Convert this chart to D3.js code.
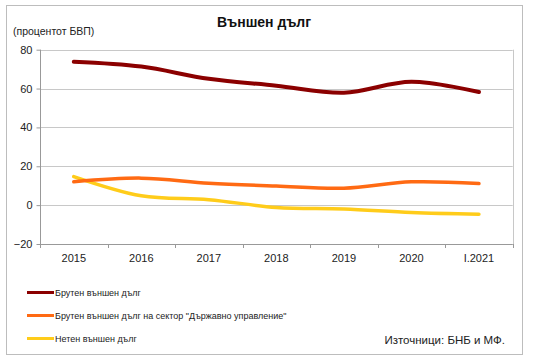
<!DOCTYPE html>
<html><head><meta charset="utf-8">
<script src="https://cdn.jsdelivr.net/npm/d3@7/dist/d3.min.js"></script>
<style>body{margin:0;background:#fff;} svg{display:block;font-family:"Liberation Sans",Arial,sans-serif;}</style>
</head><body>
<svg id="c" width="533" height="360"></svg>
<script>
const categories = ["2015","2016","2017","2018","2019","2020","I.2021"];
const grossDebt = [73.8, 71.3, 65, 61.5, 57.9, 63.5, 58.2];
const govDebt = [12.0, 13.9, 11.3, 9.8, 8.7, 12.0, 11.1];
const netDebt = [14.7, 4.8, 2.8, -1.2, -2.0, -3.8, -4.7];
const yTicks = [-20, 0, 20, 40, 60, 80];
const seriesNames = ["Брутен външен дълг", "Брутен външен дълг на сектор \"Държавно управление\"", "Нетен външен дълг"];
const colors = ["#8B0000", "#FF6A13", "#FFCC1A"];

const svg = d3.select("#c");
svg.append("rect").attr("x",6.5).attr("y",5.5).attr("width",516).attr("height",349)
  .attr("fill","#fff").attr("stroke","#bdbdbd").attr("stroke-width",1);

const L=40, R=512.7, T=49.7, B=244;
const x = d3.scaleBand().domain(categories).range([L,R]);
const y = d3.scaleLinear().domain([-20,80]).range([B,T]);

// gridlines
svg.append("g").selectAll("line").data(yTicks).join("line")
  .attr("x1",L).attr("x2",R).attr("y1",d=>Math.round(y(d))+0.5).attr("y2",d=>Math.round(y(d))+0.5)
  .attr("stroke","#c8c8c8");
svg.append("line").attr("x1",Math.round(R)+0.5).attr("x2",Math.round(R)+0.5).attr("y1",T).attr("y2",B).attr("stroke","#c8c8c8");

// y axis
const ya = svg.append("g").attr("transform",`translate(${L+0.5},0)`)
  .call(d3.axisLeft(y).tickValues(yTicks).tickSize(4).tickPadding(4));
ya.select(".domain").attr("stroke","#999").attr("d",`M-0,${T}V${B}`);
ya.selectAll(".tick line").attr("stroke","#999");
ya.selectAll(".tick text").attr("font-size",11).attr("fill","#222").attr("font-family","Liberation Sans, Arial, sans-serif");

// x axis
const xa = svg.append("g").attr("transform",`translate(0,${Math.round(B)+0.5})`)
  .call(d3.axisBottom(x).tickSize(0).tickPadding(10));
xa.select(".domain").attr("stroke","#999").attr("d",`M${L},0H${R}`);
xa.selectAll(".tick text").attr("font-size",11).attr("fill","#222").attr("font-family","Liberation Sans, Arial, sans-serif");
const bounds = categories.map(c=>x(c)).concat([R]);
svg.append("g").selectAll("line").data(bounds).join("line")
  .attr("x1",d=>Math.round(d)+0.5).attr("x2",d=>Math.round(d)+0.5)
  .attr("y1",B).attr("y2",B+4).attr("stroke","#999");

// lines
const cx = c => x(c)+x.bandwidth()/2;
const line = d3.line().x((d,i)=>cx(categories[i])).y(d=>y(d)).curve(d3.curveCatmullRom.alpha(0));
const series = [grossDebt, govDebt, netDebt];
const widths = [4, 3.5, 3.5];
[2,1,0].forEach(k=>{
  svg.append("path").attr("d",line(series[k])).attr("fill","none")
    .attr("stroke",colors[k]).attr("stroke-width",widths[k]).attr("stroke-linecap","round").attr("stroke-linejoin","round");
});

// title
svg.append("text").attr("x",264).attr("y",27).attr("text-anchor","middle")
  .attr("font-size",14).attr("font-weight","bold").attr("fill","#111").text("Външен дълг");
svg.append("text").attr("x",13).attr("y",35).attr("font-size",10.5).attr("fill","#222").text("(процентот БВП)");

// legend
const ly = [292.5, 315.5, 338.5];
seriesNames.forEach((n,i)=>{
  svg.append("line").attr("x1",27).attr("x2",54).attr("y1",ly[i]).attr("y2",ly[i])
    .attr("stroke",colors[i]).attr("stroke-width",3);
  svg.append("text").attr("x",55).attr("y",ly[i]+3.3).attr("font-size",9).attr("fill","#222").text(n);
});
svg.append("text").attr("x",505).attr("y",344).attr("text-anchor","end").attr("font-size",11.5).attr("fill","#222").text("Източници: БНБ и МФ.");
</script>
</body></html>
